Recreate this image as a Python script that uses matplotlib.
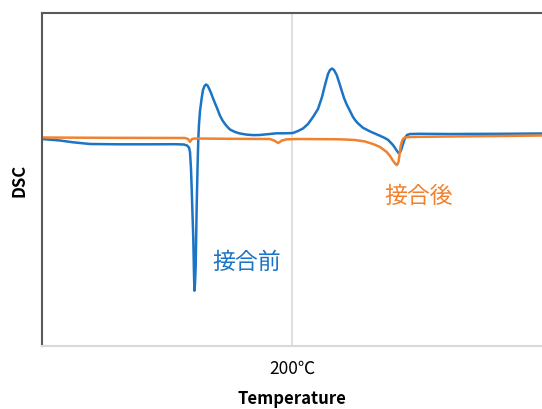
import matplotlib

matplotlib.use("Agg")
import matplotlib.pyplot as plt

plt.rcParams["font.family"] = ["Noto Sans CJK JP", "DejaVu Sans"]

# DSC curve before bonding (接合前)
temp_before = [
    0, 14.4, 24.8, 38.4, 62.4, 86.4, 106.4, 113.6, 116, 117.6, 118.4, 119.2, 119.76, 120.4,
    121.04, 121.6, 121.92, 122.4, 122.96, 123.76, 124.4, 125.04, 125.6, 126.4, 127.76, 128.8,
    130, 131.2, 132.4, 133.84, 135.4, 137.04, 138.6, 140, 142.4, 144.4, 146.4, 148.4, 150.4,
    154.4, 158.4, 163.6, 168.8, 174, 179.76, 187.76, 194.4, 200.8, 204.8, 208.8, 212.8,
    216.8, 220.8, 224, 226.4, 228.8, 230.4, 232, 233.6, 235.76, 237.6, 239.76, 241.6, 243.76,
    246.4, 248.8, 250.8, 252.8, 256.8, 262.4, 266.4, 270.4, 273.6, 276.8, 280.8, 283.76,
    285.2, 286.4, 287.6, 288.8, 290.4, 292, 294.4, 302.4, 326.4, 366.4, 400,
]
dsc_before = [
    0.0, -0.075, -0.165, -0.25, -0.265, -0.265, -0.26, -0.275, -0.325, -0.425, -0.65, -1.5,
    -2.5, -3.75, -5.0, -6.75, -7.585, -7.25, -6.335, -3.335, -1.5, 0.0, 0.75, 1.4, 2.05, 2.45,
    2.65, 2.725, 2.675, 2.5, 2.27, 2.0, 1.76, 1.55, 1.165, 0.93, 0.75, 0.6, 0.475,
    0.35, 0.275, 0.22, 0.195, 0.2, 0.235, 0.285, 0.285, 0.3, 0.4, 0.525, 0.75,
    1.1, 1.5, 2.1, 2.7, 3.25, 3.45, 3.525, 3.45, 3.2, 2.85, 2.415, 2.05, 1.725,
    1.4, 1.1, 0.92, 0.78, 0.56, 0.38, 0.27, 0.16, 0.07, -0.04, -0.3, -0.575,
    -0.7, -0.675, -0.5, -0.25, 0.05, 0.2, 0.25, 0.26, 0.25, 0.26, 0.275,
]

# DSC curve after bonding (接合後)
temp_after = [
    0, 46.4, 114.4, 116.8, 118.4, 120, 122.4, 150.4, 182.4, 185.6, 189, 192, 196, 206.4,
    238.4, 250.4, 258.4, 264.8, 270.4, 275.76, 278.4, 280.8, 282.8, 284, 285.2, 286, 286.8,
    287.76, 288.8, 290.4, 294.4, 326.4, 366.4, 400,
]
dsc_after = [
    0.075, 0.06, 0.05, 0.0, -0.14, 0.0, 0.025, 0.01, 0.0, -0.075, -0.2, -0.075, -0.015, 0.0,
    -0.015, -0.05, -0.125, -0.25, -0.4, -0.65, -0.85, -1.085, -1.25, -1.3, -1.15, -0.8, -0.4,
    -0.15, 0.0, 0.075, 0.1, 0.125, 0.15, 0.175,
]

x_ticks = [200]
x_tick_labels = ["200℃"]

BLUE = "#1b74c5"
ORANGE = "#f0822f"

fig = plt.figure(figsize=(5.42, 4.10), dpi=100)
ax = fig.add_axes([42 / 542, 63 / 410, 500 / 542, 333 / 410])

ax.plot(temp_before, dsc_before, color=BLUE, lw=1.8, solid_joinstyle="round")
ax.plot(temp_after, dsc_after, color=ORANGE, lw=1.8, solid_joinstyle="round")

ax.set_xlim(0, 400)
ax.set_ylim(-10.35, 6.3)
ax.set_xticks(x_ticks, x_tick_labels, fontsize=12.5)
ax.set_yticks([])
ax.tick_params(axis="x", length=0, pad=9)
ax.grid(axis="x", color="#d9d9d9", lw=1.2)

for side in ("left", "top"):
    ax.spines[side].set_color("#595959")
    ax.spines[side].set_linewidth(1.5)
ax.spines["bottom"].set_color("#d9d9d9")
ax.spines["bottom"].set_linewidth(1.5)
ax.spines["right"].set_visible(False)

ax.set_xlabel("Temperature", fontsize=12, fontweight="bold", labelpad=9)
ax.set_ylabel("DSC", fontsize=12, fontweight="bold", labelpad=10)

ax.text(164, -6.1, "接合前", color=BLUE, fontsize=16.5, ha="center", va="center")
ax.text(301.6, -2.8, "接合後", color=ORANGE, fontsize=16.5, ha="center", va="center")

fig.savefig("out.png", dpi=100)
